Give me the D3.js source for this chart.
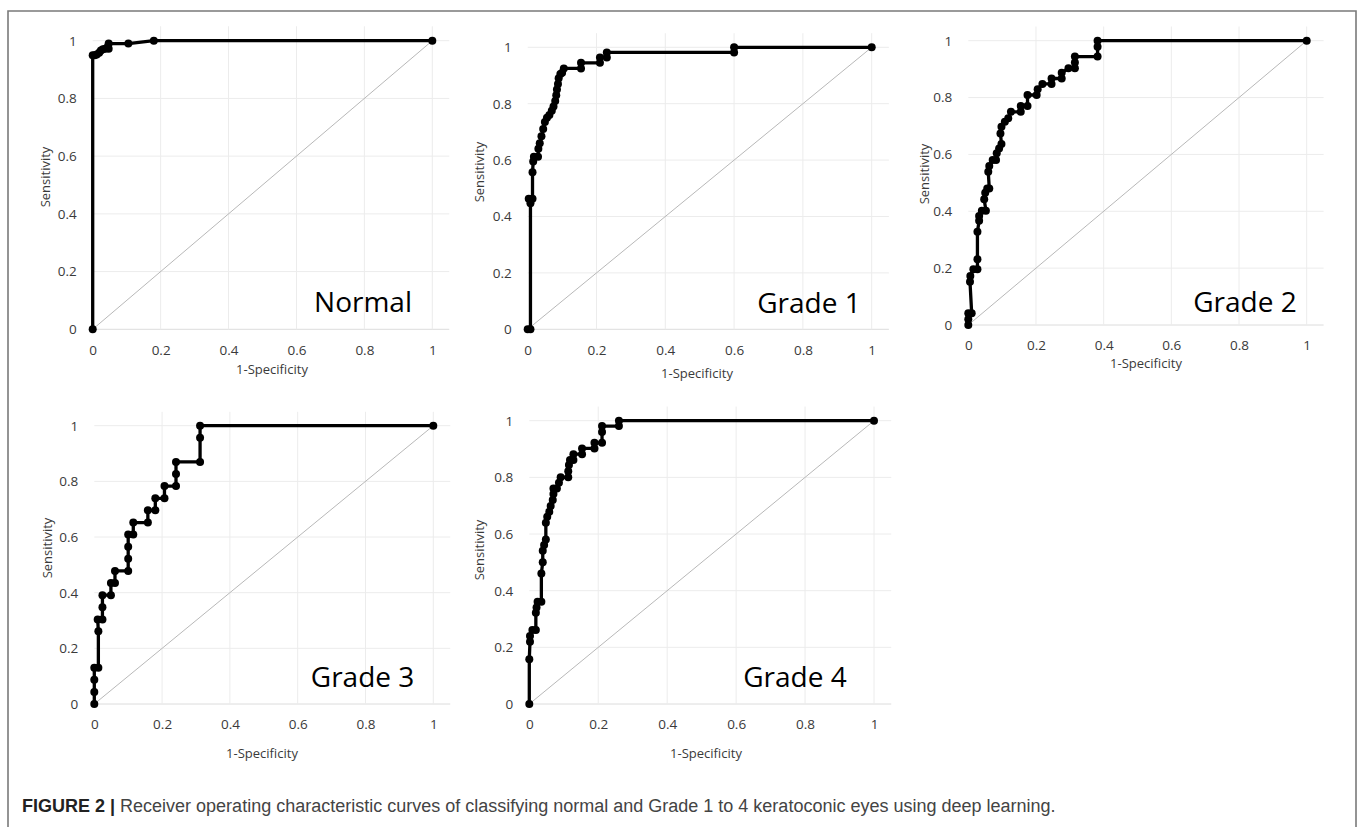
<!DOCTYPE html>
<html>
<head>
<meta charset="utf-8">
<script src="https://cdn.jsdelivr.net/npm/d3@7"></script>
<style>
  html, body { margin: 0; padding: 0; background: #fff; }
  svg { display: block; }
</style>
</head>
<body>
<svg id="fig" width="1360" height="827"></svg>
<script>
// ---- data: ROC points [1-Specificity, Sensitivity] ----
var panelNames = ["Normal", "Grade 1", "Grade 2", "Grade 3", "Grade 4"];
var tickValues = [0, 0.2, 0.4, 0.6, 0.8, 1];
var tickLabels = ["0", "0.2", "0.4", "0.6", "0.8", "1"];

var rocNormal = [[0,0],[0,0.95],[0.006,0.95],[0.012,0.952],[0.019,0.958],[0.024,0.966],[0.03,0.97],[0.037,0.972],[0.044,0.978],[0.047,0.972],[0.047,0.99],[0.105,0.99],[0.18,1],[1,1]];
var rocGrade1 = [[0,0],[0.008,0],[0.008,0.447],[0.003,0.463],[0.014,0.463],[0.014,0.557],[0.016,0.595],[0.018,0.612],[0.03,0.612],[0.031,0.64],[0.035,0.66],[0.04,0.685],[0.045,0.71],[0.05,0.735],[0.056,0.75],[0.063,0.76],[0.07,0.775],[0.075,0.79],[0.08,0.81],[0.083,0.83],[0.085,0.85],[0.088,0.87],[0.09,0.89],[0.095,0.905],[0.1,0.91],[0.105,0.925],[0.155,0.925],[0.155,0.945],[0.21,0.945],[0.21,0.964],[0.23,0.964],[0.23,0.982],[0.6,0.982],[0.6,1],[1,1]];
var rocGrade2 = [[0,0],[0,0.02],[0,0.041],[0.01,0.041],[0.005,0.152],[0.006,0.172],[0.015,0.196],[0.027,0.196],[0.027,0.231],[0.027,0.328],[0.032,0.367],[0.032,0.383],[0.04,0.402],[0.052,0.402],[0.047,0.442],[0.05,0.465],[0.056,0.48],[0.062,0.48],[0.059,0.539],[0.062,0.559],[0.072,0.58],[0.082,0.58],[0.084,0.604],[0.091,0.621],[0.098,0.637],[0.095,0.674],[0.098,0.697],[0.108,0.715],[0.118,0.727],[0.126,0.75],[0.155,0.75],[0.155,0.77],[0.175,0.77],[0.175,0.809],[0.202,0.809],[0.205,0.829],[0.219,0.848],[0.246,0.848],[0.246,0.867],[0.276,0.867],[0.276,0.887],[0.296,0.903],[0.315,0.903],[0.315,0.923],[0.315,0.944],[0.382,0.944],[0.382,0.979],[0.382,1],[1,1]];
var rocGrade3 = [[0,0],[0,0.043],[0,0.087],[0,0.13],[0.012,0.13],[0.012,0.261],[0.01,0.304],[0.024,0.304],[0.024,0.348],[0.024,0.391],[0.049,0.391],[0.049,0.435],[0.061,0.435],[0.061,0.478],[0.1,0.478],[0.1,0.522],[0.1,0.565],[0.1,0.609],[0.115,0.609],[0.115,0.652],[0.158,0.652],[0.158,0.696],[0.18,0.696],[0.18,0.739],[0.207,0.739],[0.207,0.783],[0.241,0.783],[0.241,0.826],[0.241,0.87],[0.312,0.87],[0.312,0.957],[0.312,1],[1,1]];
var rocGrade4 = [[0,0],[0,0.158],[0.002,0.22],[0.002,0.24],[0.009,0.261],[0.019,0.261],[0.019,0.322],[0.021,0.341],[0.024,0.361],[0.035,0.361],[0.035,0.461],[0.039,0.5],[0.039,0.541],[0.043,0.561],[0.048,0.581],[0.048,0.64],[0.052,0.661],[0.058,0.679],[0.062,0.699],[0.068,0.72],[0.07,0.741],[0.07,0.761],[0.08,0.761],[0.086,0.781],[0.091,0.8],[0.113,0.8],[0.113,0.822],[0.115,0.844],[0.118,0.861],[0.128,0.861],[0.128,0.882],[0.153,0.882],[0.153,0.902],[0.189,0.902],[0.189,0.922],[0.211,0.922],[0.211,0.96],[0.211,0.981],[0.26,0.981],[0.26,1],[1,1]];
var rocSeries = [rocNormal, rocGrade1, rocGrade2, rocGrade3, rocGrade4];

var captionBold = "FIGURE 2 |";
var captionText = " Receiver operating characteristic curves of classifying normal and Grade 1 to 4 keratoconic eyes using deep learning.";

// ---- layout of each panel (pixel box of x 0..1 and y 0..1, titles, name label) ----
var layout = [
  {x0: 92.7,  x1: 432.3,  yTop: 40.7,  yBot: 329.3, yt: 45,    ytY: 177, xtX: 272,  xtY: 369,   tkY: 350,   nmX: 412,   nmY: 312},
  {x0: 527.7, x1: 871.7,  yTop: 47.3,  yBot: 329.3, yt: 479,   ytY: 172, xtX: 697,  xtY: 373,   tkY: 350,   nmX: 860.7, nmY: 313},
  {x0: 968.3, x1: 1306.7, yTop: 40.7,  yBot: 325,   yt: 924,   ytY: 174, xtX: 1146, xtY: 363,   tkY: 345,   nmX: 1296.7, nmY: 311.7},
  {x0: 94.3,  x1: 433.3,  yTop: 425.7, yBot: 704,   yt: 47.7,  ytY: 548, xtX: 262,  xtY: 753.3, tkY: 724.3, nmX: 414.3, nmY: 686.7},
  {x0: 529.3, x1: 874,    yTop: 420.7, yBot: 704,   yt: 479.3, ytY: 550, xtX: 706,  xtY: 753.3, tkY: 724.3, nmX: 846.7, nmY: 686.7}
];

var svg = d3.select("#fig");
var font = "'Open Sans', sans-serif";
var tickFs = 13.5;

// outer frame (top, left, right)
svg.append("path")
  .attr("d", "M8,827 L8,11 L1356,11 L1356,827")
  .attr("fill", "none")
  .attr("stroke", "#7a7a7a")
  .attr("stroke-width", 1.6);

panelNames.forEach(function(name, k){
  var L = layout[k];
  var x = d3.scaleLinear().domain([0, 1]).range([L.x0, L.x1]);
  var y = d3.scaleLinear().domain([0, 1]).range([L.yBot, L.yTop]);
  var g = svg.append("g").attr("class", "panel-" + k);
  var xMax = 1.05, yMax = 1.05;

  // gridlines
  g.selectAll(".hgrid").data(tickValues).enter().append("line")
    .attr("x1", x(0)).attr("x2", x(xMax))
    .attr("y1", function(d){ return y(d); }).attr("y2", function(d){ return y(d); })
    .attr("stroke", function(d){ return d === 0 ? "#dcdcdc" : "#ececec"; })
    .attr("stroke-width", 1);
  g.selectAll(".vgrid").data(tickValues.slice(1)).enter().append("line")
    .attr("x1", function(d){ return x(d); }).attr("x2", function(d){ return x(d); })
    .attr("y1", y(0)).attr("y2", y(yMax))
    .attr("stroke", "#ececec")
    .attr("stroke-width", 1);

  // axes (labels only)
  var xAxis = d3.axisBottom(x).tickValues(tickValues).tickSize(0)
    .tickFormat(function(d, i){ return tickLabels[i]; });
  var yAxis = d3.axisLeft(y).tickValues(tickValues).tickSize(0)
    .tickFormat(function(d, i){ return tickLabels[i]; });
  var gx = g.append("g").attr("transform", "translate(0," + L.tkY + ")").call(xAxis);
  var gy = g.append("g").attr("transform", "translate(" + (L.x0 - 13) + ",0)").call(yAxis);
  [gx, gy].forEach(function(a){
    a.select(".domain").remove();
    a.selectAll("text").attr("font-size", tickFs).attr("font-family", font).attr("fill", "#3a3a3a");
  });
  gx.selectAll("text").attr("dy", "0.36em").attr("y", 0);

  // chance diagonal
  g.append("line")
    .attr("x1", x(0)).attr("y1", y(0)).attr("x2", x(1)).attr("y2", y(1))
    .attr("stroke", "#b8b8b8").attr("stroke-width", 1);

  // ROC curve
  var data = rocSeries[k];
  var line = d3.line().x(function(d){ return x(d[0]); }).y(function(d){ return y(d[1]); });
  g.append("path").datum(data)
    .attr("d", line)
    .attr("fill", "none")
    .attr("stroke", "#000")
    .attr("stroke-width", 3.3)
    .attr("stroke-linejoin", "round");
  g.selectAll(".pt").data(data).enter().append("circle")
    .attr("cx", function(d){ return x(d[0]); })
    .attr("cy", function(d){ return y(d[1]); })
    .attr("r", 4)
    .attr("fill", "#000");

  // axis titles
  g.append("text")
    .attr("x", L.xtX).attr("y", L.xtY)
    .attr("dy", "0.35em")
    .attr("text-anchor", "middle")
    .attr("font-family", font).attr("font-size", 13).attr("fill", "#3a3a3a")
    .text("1-Specificity");
  g.append("text")
    .attr("transform", "translate(" + L.yt + "," + L.ytY + ") rotate(-90)")
    .attr("dy", "0.35em")
    .attr("text-anchor", "middle")
    .attr("font-family", font).attr("font-size", 13).attr("fill", "#3a3a3a")
    .text("Sensitivity");

  // panel name
  g.append("text")
    .attr("x", L.nmX).attr("y", L.nmY)
    .attr("text-anchor", "end")
    .attr("font-family", font).attr("font-size", 28).attr("fill", "#000")
    .text(name);
});

// caption
var cap = svg.append("text")
  .attr("x", 22).attr("y", 812)
  .attr("font-family", "'Liberation Sans', Arial, sans-serif")
  .attr("font-size", 18);
cap.append("tspan").attr("font-weight", "bold").attr("fill", "#222").text(captionBold);
cap.append("tspan").attr("fill", "#444").text(captionText);
</script>
</body>
</html>
